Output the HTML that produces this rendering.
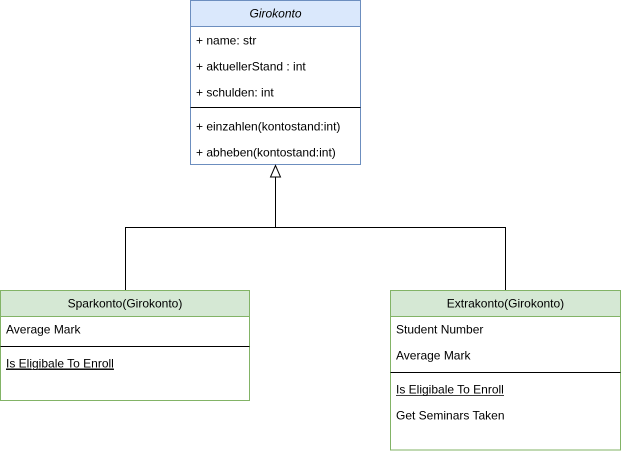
<!DOCTYPE html>
<html><head><meta charset="utf-8"><style>
html,body{margin:0;padding:0;background:#fff;width:622px;height:451px;overflow:hidden}
svg{display:block}
text{font-family:"Liberation Sans",Arial,sans-serif;font-size:12px;fill:#000}
</style></head><body>
<svg width="622" height="451" viewBox="0 0 622 451">
<!-- Girokonto -->
<rect x="190.5" y="0.5" width="170" height="26" fill="#dae8fc" stroke="#6c8ebf"/>
<rect x="190.5" y="26.5" width="170" height="138" fill="#fff" stroke="#6c8ebf"/>
<text x="275.5" y="17.5" text-anchor="middle" font-style="italic">Girokonto</text>
<text x="196" y="44.5">+ name: str</text>
<text x="196" y="70.5">+ aktuellerStand : int</text>
<text x="196" y="96.5">+ schulden: int</text>
<line x1="190.5" y1="107.5" x2="360.5" y2="107.5" stroke="#000"/>
<text x="196" y="130.5">+ einzahlen(kontostand:int)</text>
<text x="196" y="156.5">+ abheben(kontostand:int)</text>
<!-- connector -->
<polyline points="125.5,290 125.5,227.5 505.5,227.5 505.5,290" fill="none" stroke="#000"/>
<line x1="275.5" y1="227.5" x2="275.5" y2="177" stroke="#000"/>
<polygon points="275.5,165.5 270.5,177 280.5,177" fill="#fff" stroke="#000"/>
<!-- Sparkonto -->
<rect x="0.5" y="290.5" width="249" height="26" fill="#d5e8d4" stroke="#82b366"/>
<rect x="0.5" y="316.5" width="249" height="84" fill="#fff" stroke="#82b366"/>
<text x="125" y="307.5" text-anchor="middle">Sparkonto(Girokonto)</text>
<text x="6" y="333.5">Average Mark</text>
<line x1="0.5" y1="346.5" x2="249.5" y2="346.5" stroke="#000"/>
<text x="6" y="367.5" text-decoration="underline">Is Eligibale To Enroll</text>
<line x1="6" y1="369.5" x2="114" y2="369.5" stroke="#000" stroke-width="0.8"/>
<!-- Extrakonto -->
<rect x="390.5" y="290.5" width="230" height="26" fill="#d5e8d4" stroke="#82b366"/>
<rect x="390.5" y="316.5" width="230" height="133.5" fill="#fff" stroke="#82b366"/>
<text x="505.5" y="307.5" text-anchor="middle">Extrakonto(Girokonto)</text>
<text x="396" y="333.5">Student Number</text>
<text x="396" y="359.5">Average Mark</text>
<line x1="390.5" y1="372.5" x2="620.5" y2="372.5" stroke="#000"/>
<text x="396" y="393.5">Is Eligibale To Enroll</text>
<line x1="396" y1="395.5" x2="504" y2="395.5" stroke="#000" stroke-width="0.8"/>
<text x="396" y="419.5">Get Seminars Taken</text>
</svg>
</body></html>
